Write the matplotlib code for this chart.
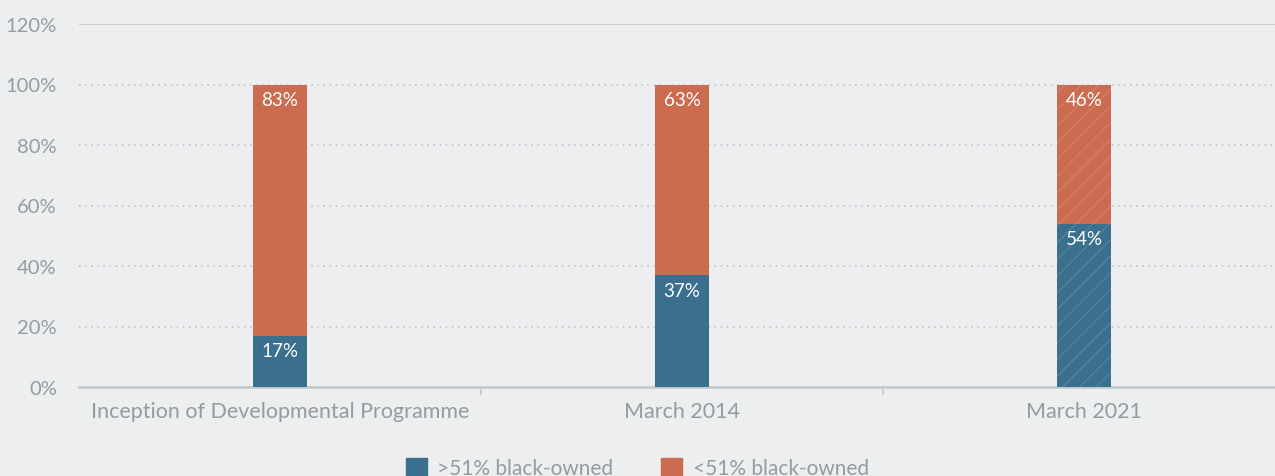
import numpy as np
import matplotlib.pyplot as plt
from matplotlib.patches import Patch

categories = ["Inception of Developmental Programme", "March 2014", "March 2021"]
above_51 = [17, 37, 54]
below_51 = [83, 63, 46]
hatched = [False, False, True]
series_names = [">51% black-owned", "<51% black-owned"]
yticks = [0, 20, 40, 60, 80, 100, 120]

BLUE = "#3a6f8e"
ORANGE = "#cb6b4f"
BG = "#edeef0"
TEXT = "#919e9e"
GRID = "#b9bfc4"

plt.rcParams["font.family"] = ["Lato", "DejaVu Sans"]
plt.rcParams["hatch.color"] = (1, 1, 1, 0.13)
plt.rcParams["hatch.linewidth"] = 1.0

fig = plt.figure(figsize=(12.75, 4.77), dpi=100, facecolor=BG)
ax = fig.add_axes([79 / 1275, 89 / 477, 1206 / 1275, 363 / 477])
ax.set_facecolor(BG)

x = np.arange(len(categories))
width = 0.132
for i in range(len(categories)):
    h = "//" if hatched[i] else None
    ax.bar(x[i], above_51[i], width, color=BLUE, hatch=h, linewidth=0, zorder=3)
    ax.bar(x[i], below_51[i], width, bottom=above_51[i], color=ORANGE,
           hatch=h, linewidth=0, zorder=3)
    ax.text(x[i], above_51[i] - 2.2, f"{above_51[i]}%", ha="center", va="top",
            color="white", fontsize=13.5, zorder=4)
    ax.text(x[i], above_51[i] + below_51[i] - 2.2, f"{below_51[i]}%",
            ha="center", va="top", color="white", fontsize=13.5, zorder=4)

ax.set_xlim(-0.5, 2.5)
ax.set_ylim(0, 120)
ax.set_yticks(yticks)
ax.set_yticklabels([f"{v}%" for v in yticks])
for v in yticks[1:-1]:
    ax.axhline(v, color=GRID, linestyle=(0, (1, 3)), linewidth=1.1, zorder=1)
ax.axhline(120, color="#c4c9cd", linewidth=1.2, zorder=1)

ax.set_xticks(x)
ax.set_xticklabels(categories)
ax.set_xticks([0.5, 1.5], minor=True)
ax.tick_params(axis="x", which="major", length=0, pad=10, labelsize=15.5,
               labelcolor=TEXT)
ax.tick_params(axis="x", which="minor", length=6, width=1.2, color="#c4c9cd")
ax.tick_params(axis="y", length=0, pad=16, labelsize=14.5, labelcolor=TEXT)

for side in ["top", "right", "left"]:
    ax.spines[side].set_visible(False)
ax.spines["bottom"].set_color("#c4c9cd")
ax.spines["bottom"].set_linewidth(2)

handles = [Patch(color=BLUE), Patch(color=ORANGE)]
fig.legend(handles, series_names, loc="center", bbox_to_anchor=(0.5, 8 / 477),
           ncol=2, frameon=False, fontsize=15, handlelength=1.0,
           handleheight=1.0, columnspacing=2.3, handletextpad=0.5,
           labelcolor=TEXT)

fig.savefig("out.png", dpi=100, facecolor=BG)
